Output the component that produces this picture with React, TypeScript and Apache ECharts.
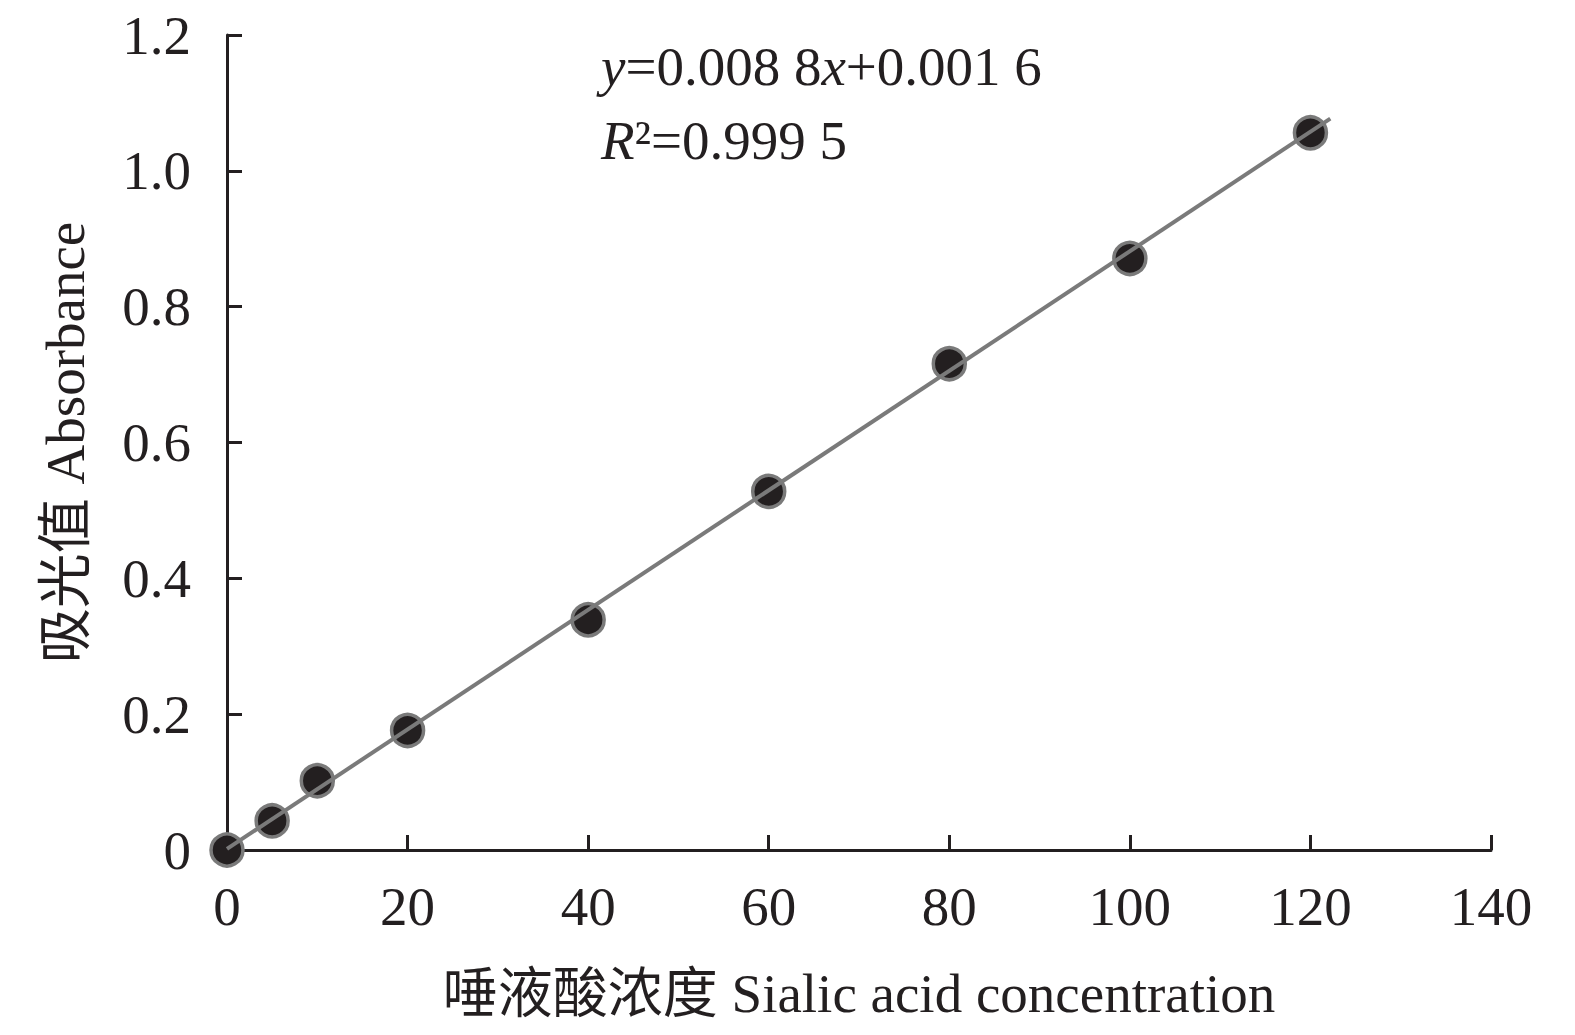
import React, { useEffect, useRef } from "react";
import * as echarts from "echarts";

const concentrations = [0, 5, 10, 20, 40, 60, 80, 100, 120];
const absorbances = [0, 0.043, 0.102, 0.176, 0.339, 0.528, 0.716, 0.871, 1.056];
const fitSlope = 0.0088;
const fitIntercept = 0.0016;
const fitRange = [0, 122.2];
const xTicks = [0, 20, 40, 60, 80, 100, 120, 140];
const yTickLabels = ["0", "0.2", "0.4", "0.6", "0.8", "1.0", "1.2"];

const FONT = "'Liberation Serif', 'Times New Roman', 'Noto Sans CJK SC', serif";
const INK = "#231f20";
const FS = 55;

export default function App() {
  const ref = useRef<HTMLDivElement>(null);
  useEffect(() => {
    if (!ref.current) return;
    const chart = echarts.init(ref.current, undefined, { renderer: "svg" });
    const fitData = fitRange.map((x) => [x, fitSlope * x + fitIntercept]);
    chart.setOption({
      animation: false,
      backgroundColor: "#ffffff",
      grid: { left: 227, top: 35, right: 84, bottom: 185 },
      xAxis: {
        type: "value",
        min: xTicks[0],
        max: xTicks[xTicks.length - 1],
        interval: 20,
        name: "唾液酸浓度 Sialic acid concentration",
        nameLocation: "middle",
        nameGap: 116,
        nameTextStyle: { fontFamily: FONT, fontSize: FS, color: INK },
        axisLine: { show: true, lineStyle: { color: INK, width: 3 } },
        axisTick: { show: true, inside: true, length: 15, lineStyle: { color: INK, width: 3 } },
        axisLabel: { fontFamily: FONT, fontSize: FS, color: INK, margin: 29 },
        splitLine: { show: false },
      },
      yAxis: {
        type: "value",
        min: 0,
        max: 1.2,
        interval: 0.2,
        name: "吸光值 Absorbance",
        nameLocation: "middle",
        nameGap: 134,
        nameRotate: 90,
        nameTextStyle: { fontFamily: FONT, fontSize: FS, color: INK },
        axisLine: { show: true, lineStyle: { color: INK, width: 3 } },
        axisTick: { show: true, inside: true, length: 15, lineStyle: { color: INK, width: 3 } },
        axisLabel: {
          fontFamily: FONT,
          fontSize: FS,
          color: INK,
          margin: 36,
          formatter: (v: number) => yTickLabels[Math.round(v / 0.2)] ?? String(v),
        },
        splitLine: { show: false },
      },
      series: [
        {
          type: "scatter",
          data: concentrations.map((c, i) => [c, absorbances[i]]),
          symbol: "circle",
          symbolSize: 32,
          itemStyle: { color: INK, borderColor: "#7a7a7a", borderWidth: 3.5, opacity: 1 },
          z: 2,
          clip: false,
        },
        {
          type: "line",
          data: fitData,
          showSymbol: false,
          symbol: "none",
          lineStyle: { color: "#7a7a7a", width: 4 },
          z: 3,
          clip: false,
        },
      ],
      graphic: [
        {
          type: "text",
          left: 601,
          top: 39,
          style: {
            text: "{i|y}=0.008 8{i|x}+0.001 6",
            fontFamily: FONT,
            fontSize: FS,
            fill: INK,
            rich: {
              i: { fontStyle: "italic", fontFamily: FONT, fontSize: FS, fill: INK },
            },
          },
        },
        {
          type: "text",
          left: 601,
          top: 113,
          style: {
            text: "{i|R}²=0.999 5",
            fontFamily: FONT,
            fontSize: FS,
            fill: INK,
            rich: {
              i: { fontStyle: "italic", fontFamily: FONT, fontSize: FS, fill: INK },
            },
          },
        },
      ],
    });
    return () => chart.dispose();
  }, []);
  return (
    <div
      ref={ref}
      style={{ position: "absolute", left: 0, top: 0, width: 1575, height: 1035 }}
    />
  );
}
